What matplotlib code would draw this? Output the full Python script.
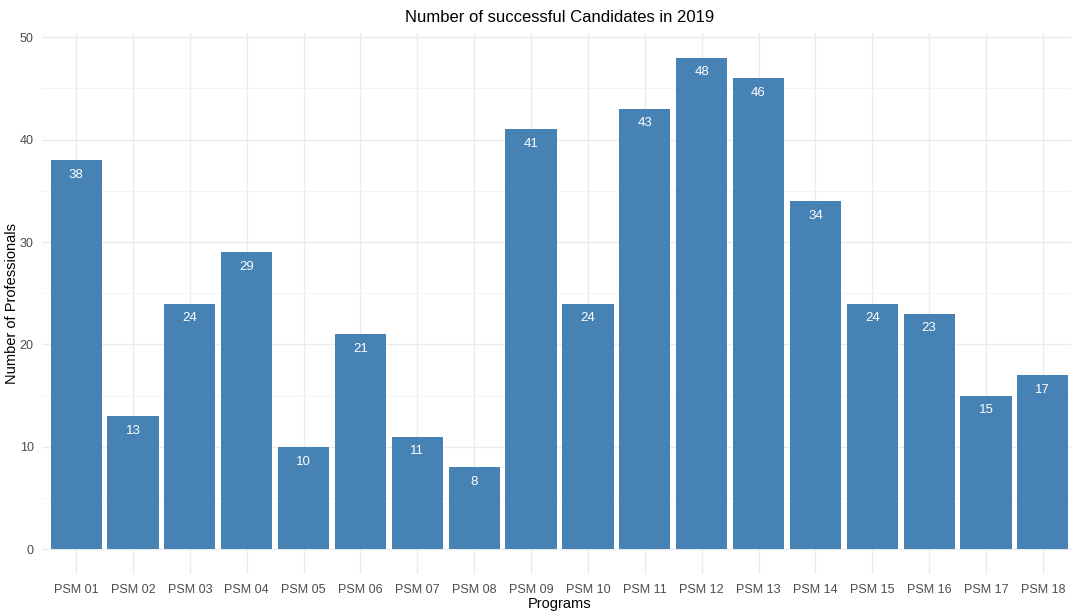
import matplotlib
matplotlib.use("Agg")
import matplotlib.pyplot as plt
from matplotlib.ticker import MultipleLocator

plt.rcParams['font.family'] = ['Liberation Sans', 'DejaVu Sans']

programs = ["PSM 01", "PSM 02", "PSM 03", "PSM 04", "PSM 05", "PSM 06",
            "PSM 07", "PSM 08", "PSM 09", "PSM 10", "PSM 11", "PSM 12",
            "PSM 13", "PSM 14", "PSM 15", "PSM 16", "PSM 17", "PSM 18"]
successful = [38, 13, 24, 29, 10, 21, 11, 8, 41, 24, 43, 48, 46, 34, 24, 23, 15, 17]

W, H = 1071, 614
fig = plt.figure(figsize=(W / 100, H / 100), dpi=100)
# panel spans pixels x 42..1077, y 33..574 (top-origin)
ax = fig.add_axes([42 / W, (H - 574) / H, (1077 - 42) / W, (574 - 33) / H])

x = list(range(1, len(programs) + 1))
ax.bar(x, successful, width=0.9, color="#4682B4", zorder=2)

for xi, v in zip(x, successful):
    ax.annotate(str(v), (xi, v), xytext=(0, -10.5), textcoords="offset points",
                ha="center", va="center", color="white", fontsize=9.5, zorder=3)

ymax = max(successful)
ax.set_xlim(0.4, len(programs) + 0.6)
ax.set_ylim(-0.05 * ymax, ymax * 1.05)
ax.set_xticks(x)
ax.set_xticklabels(programs)
ax.yaxis.set_major_locator(MultipleLocator(10))
ax.yaxis.set_minor_locator(MultipleLocator(5))

ax.grid(True, which="major", color="#EBEBEB", linewidth=1.0, zorder=0)
ax.grid(True, which="minor", axis="y", color="#F2F2F2", linewidth=0.6, zorder=0)
ax.set_axisbelow(True)
for s in ax.spines.values():
    s.set_visible(False)
ax.tick_params(axis="both", which="both", length=0, colors="#4D4D4D", labelsize=9)
ax.tick_params(axis="x", pad=7)
ax.tick_params(axis="y", pad=6)

ax.set_title("Number of successful Candidates in 2019", fontsize=12, color="black", pad=8)
ax.title.set_x((560 - 42) / (1077 - 42))

fig.text(560 / W, 1 - 604 / H, "Programs", fontsize=10.5, color="black",
         ha="center", va="center")
fig.text(12 / W, 1 - 303 / H, "Number of Professionals", fontsize=10.5, color="black",
         ha="center", va="center", rotation=90)

fig.savefig("out.png", dpi=100)
